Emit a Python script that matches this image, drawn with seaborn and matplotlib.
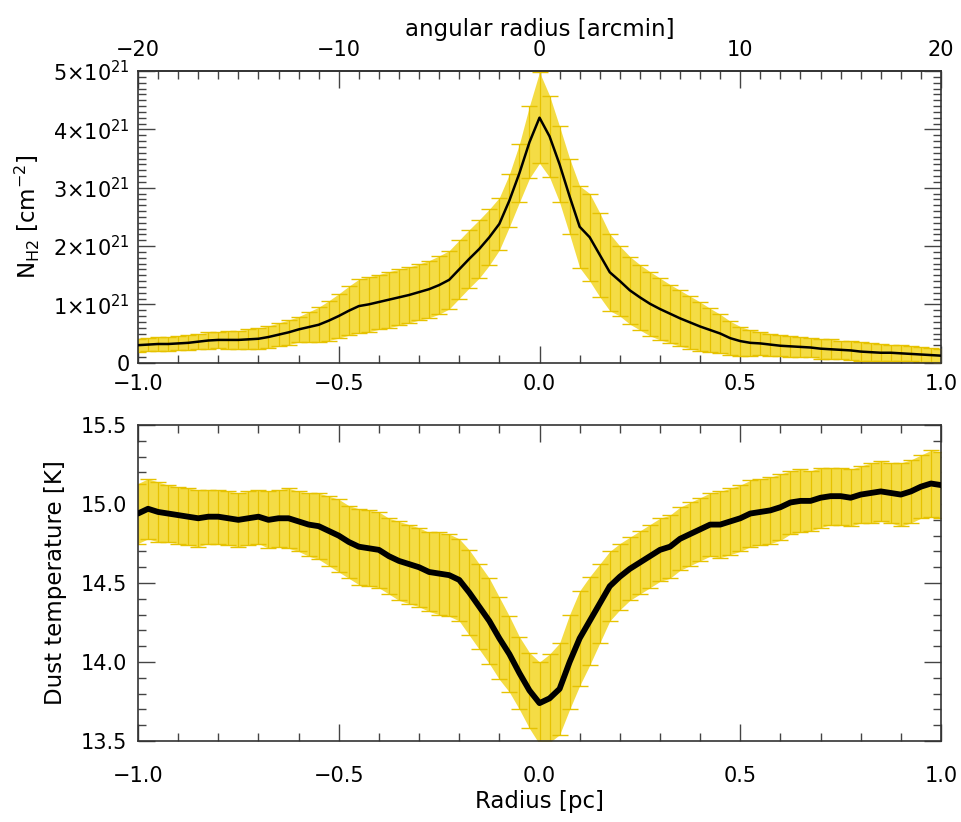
import numpy as np
import matplotlib
matplotlib.use("Agg")
import matplotlib.pyplot as plt
from matplotlib.ticker import MultipleLocator, FixedLocator, FixedFormatter
import seaborn as sns

# ---------------- data ----------------
radius_pc = [round(-1.0 + 0.025 * i, 3) for i in range(81)]

# column density N_H2 in units of 1e21 cm^-2
nh2_1e21 = [
    0.30, 0.31, 0.32, 0.32, 0.33,
    0.34, 0.36, 0.38, 0.39,
    0.39, 0.39, 0.40, 0.41,
    0.44, 0.48, 0.52, 0.57,
    0.61, 0.65, 0.72, 0.80,
    0.89, 0.97, 1.00, 1.04,
    1.08, 1.12, 1.16, 1.21,
    1.26, 1.33, 1.42, 1.60,
    1.78, 1.95, 2.15, 2.38,
    2.78, 3.25, 3.78, 4.20,
    3.88, 3.40, 2.85, 2.33,
    2.15, 1.85, 1.55, 1.40,
    1.24, 1.12, 1.01, 0.92,
    0.84, 0.76, 0.69, 0.62,
    0.56, 0.50, 0.42, 0.37,
    0.34, 0.33, 0.31, 0.29,
    0.28, 0.27, 0.26, 0.24,
    0.23, 0.22, 0.21, 0.19,
    0.18, 0.17, 0.17, 0.16,
    0.15, 0.14, 0.13, 0.12,
]
nh2_err_1e21 = [
    0.11, 0.11, 0.12, 0.12, 0.12,
    0.13, 0.13, 0.14, 0.14,
    0.15, 0.16, 0.17, 0.18,
    0.19, 0.20, 0.21, 0.22,
    0.26, 0.30, 0.34, 0.38,
    0.42, 0.46, 0.47, 0.47,
    0.48, 0.48, 0.48, 0.48,
    0.49, 0.50, 0.50, 0.50,
    0.50, 0.50, 0.48, 0.45,
    0.45, 0.50, 0.62, 0.78,
    0.70, 0.65, 0.65, 0.70,
    0.75, 0.72, 0.66, 0.60,
    0.58, 0.56, 0.55, 0.53,
    0.50, 0.48, 0.45, 0.42,
    0.37, 0.33, 0.29, 0.25,
    0.22, 0.20, 0.19, 0.18,
    0.18, 0.17, 0.17, 0.17,
    0.17, 0.16, 0.16, 0.16,
    0.15, 0.15, 0.14, 0.14,
    0.13, 0.13, 0.12, 0.12,
]

# dust temperature [K]
temp_k = [
    14.94, 14.97, 14.95, 14.94, 14.93,
    14.92, 14.91, 14.92, 14.92,
    14.91, 14.90, 14.91, 14.92,
    14.90, 14.91, 14.91, 14.89,
    14.87, 14.86, 14.83, 14.80,
    14.76, 14.73, 14.72, 14.71,
    14.67, 14.64, 14.62, 14.60,
    14.57, 14.56, 14.55, 14.52,
    14.44, 14.35, 14.26, 14.15,
    14.05, 13.93, 13.82, 13.74,
    13.77, 13.83, 14.00, 14.15,
    14.26, 14.37, 14.48, 14.54,
    14.59, 14.63, 14.67, 14.71,
    14.73, 14.78, 14.81, 14.84,
    14.87, 14.87, 14.89, 14.91,
    14.94, 14.95, 14.96, 14.98,
    15.01, 15.02, 15.02, 15.04,
    15.05, 15.05, 15.04, 15.06,
    15.07, 15.08, 15.07, 15.06,
    15.08, 15.11, 15.13, 15.12,
]
temp_err_k = [
    0.19, 0.19, 0.19, 0.18, 0.18,
    0.18, 0.18, 0.17, 0.17,
    0.17, 0.17, 0.17, 0.17,
    0.18, 0.18, 0.19, 0.19,
    0.20, 0.21, 0.22, 0.23,
    0.23, 0.24, 0.24, 0.24,
    0.24, 0.25, 0.25, 0.25,
    0.25, 0.26, 0.26, 0.26,
    0.27, 0.27, 0.27, 0.26,
    0.24, 0.23, 0.24, 0.26,
    0.28, 0.29, 0.30, 0.30,
    0.28, 0.25, 0.22, 0.21,
    0.20, 0.20, 0.20, 0.20,
    0.20, 0.20, 0.20, 0.20,
    0.20, 0.21, 0.21, 0.21,
    0.21, 0.21, 0.21, 0.21,
    0.20, 0.20, 0.19, 0.19,
    0.18, 0.18, 0.18, 0.18,
    0.19, 0.19, 0.19, 0.20,
    0.20, 0.20, 0.21, 0.21,
]

x_ticks = [-1.0, -0.5, 0.0, 0.5, 1.0]
x_ticklabels = ["\u22121.0", "\u22120.5", "0.0", "0.5", "1.0"]
arcmin_ticks = [-20, -10, 0, 10, 20]
arcmin_ticklabels = ["\u221220", "\u221210", "0", "10", "20"]
nh2_ticks = [0, 1, 2, 3, 4, 5]
nh2_ticklabels = ["0"] + [r"$%d{\times}10^{21}$" % v for v in nh2_ticks[1:]]
temp_ticks = [13.5, 14.0, 14.5, 15.0, 15.5]
temp_ticklabels = ["13.5", "14.0", "14.5", "15.0", "15.5"]
ARCMIN_PER_PC = 20.0

# ---------------- style ----------------
sns.set_theme(style="white")
plt.rcParams["font.family"] = ["DejaVu Sans"]
plt.rcParams["mathtext.fontset"] = "dejavusans"
plt.rcParams["axes.labelcolor"] = "black"
plt.rcParams["text.color"] = "black"

BAND = "#F4DC45"
BAR = "#E6C200"
FS = 15
LFS = 16.5

r = np.array(radius_pc)
n = np.array(nh2_1e21)
ne = np.array(nh2_err_1e21)
t = np.array(temp_k)
te = np.array(temp_err_k)

fig = plt.figure(figsize=(9.61, 8.22), dpi=100)
ax1 = fig.add_axes([0.1436, 0.5588, 0.8356, 0.3548])
ax2 = fig.add_axes([0.1436, 0.0985, 0.8356, 0.3844])


def style_axes(ax):
    for s in ax.spines.values():
        s.set_color("#333333")
        s.set_linewidth(1.2)
        s.set_visible(True)
    ax.tick_params(which="both", direction="in", colors="#444444",
                   labelcolor="black", labelsize=FS, width=1.0)
    ax.tick_params(which="major", length=12)
    ax.tick_params(which="minor", length=6)


# ---- top panel: column density ----
ax1.fill_between(r, n - ne, n + ne, color=BAND, lw=0, zorder=1)
ax1.errorbar(r, n, yerr=ne, fmt="none", ecolor=BAR, elinewidth=0.9,
             capsize=6, capthick=1.0, zorder=2)
sns.lineplot(x=r, y=n, ax=ax1, color="black", linewidth=1.8, zorder=3)
ax1.set_xlim(-1.0, 1.0)
ax1.set_ylim(0, 5)
style_axes(ax1)
ax1.xaxis.set_major_locator(FixedLocator(x_ticks))
ax1.xaxis.set_major_formatter(FixedFormatter(x_ticklabels))
ax1.xaxis.set_minor_locator(MultipleLocator(0.1))
ax1.yaxis.set_major_locator(FixedLocator(nh2_ticks))
ax1.yaxis.set_major_formatter(FixedFormatter(nh2_ticklabels))
ax1.yaxis.set_minor_locator(MultipleLocator(0.1))
ax1.tick_params(axis="x", which="both", bottom=True, top=False, pad=8)
ax1.tick_params(axis="y", which="both", left=True, right=True, pad=6)
ax1.set_ylabel(r"N$_{\rm H2}$ [cm$^{-2}$]", fontsize=LFS, labelpad=8,
               color="black")
ax1.set_xlabel("")

sec = ax1.secondary_xaxis("top", functions=(lambda v: v * ARCMIN_PER_PC,
                                            lambda v: v / ARCMIN_PER_PC))
sec.xaxis.set_major_locator(FixedLocator(arcmin_ticks))
sec.xaxis.set_major_formatter(FixedFormatter(arcmin_ticklabels))
sec.xaxis.set_minor_locator(MultipleLocator(1))
sec.tick_params(which="both", direction="in", colors="#444444",
                labelcolor="black", labelsize=FS, width=1.0, pad=8)
sec.tick_params(which="major", length=12)
sec.tick_params(which="minor", length=6)
sec.spines["top"].set_color("#333333")
sec.set_xlabel("angular radius [arcmin]", fontsize=LFS, labelpad=3,
               color="black")

# ---- bottom panel: dust temperature ----
ax2.fill_between(r, t - te, t + te, color=BAND, lw=0, zorder=1)
ax2.errorbar(r, t, yerr=te, fmt="none", ecolor=BAR, elinewidth=0.9,
             capsize=6, capthick=1.0, zorder=2)
sns.lineplot(x=r, y=t, ax=ax2, color="black", linewidth=4.2, zorder=3)
ax2.set_xlim(-1.0, 1.0)
ax2.set_ylim(13.5, 15.5)
style_axes(ax2)
ax2.xaxis.set_major_locator(FixedLocator(x_ticks))
ax2.xaxis.set_major_formatter(FixedFormatter(x_ticklabels))
ax2.xaxis.set_minor_locator(MultipleLocator(0.1))
ax2.yaxis.set_major_locator(FixedLocator(temp_ticks))
ax2.yaxis.set_major_formatter(FixedFormatter(temp_ticklabels))
ax2.yaxis.set_minor_locator(MultipleLocator(0.1))
ax2.tick_params(axis="x", which="both", bottom=True, top=True, pad=18)
ax2.tick_params(axis="y", which="both", left=True, right=True, pad=8)
ax2.set_xlabel("Radius [pc]", fontsize=LFS, labelpad=3, color="black")
ax2.set_ylabel("Dust temperature [K]", fontsize=LFS, labelpad=10,
               color="black")

fig.savefig("out.png", dpi=100, facecolor="white")
